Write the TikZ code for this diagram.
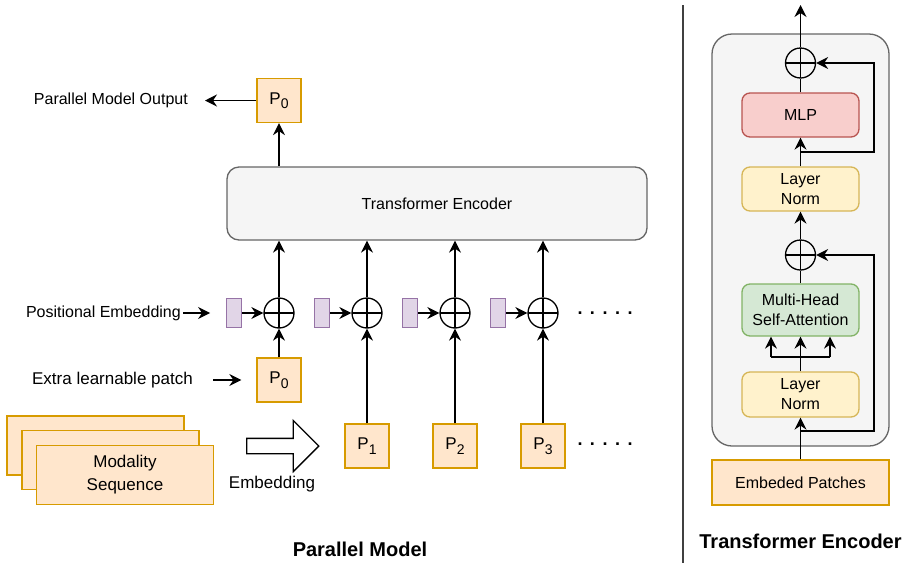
\documentclass[tikz,border=0pt]{standalone}
\usepackage{fontspec}
\setmainfont{Liberation Sans}
\usetikzlibrary{positioning,calc,arrows.meta,shapes.arrows}

\definecolor{patchfill}{HTML}{FFE6CC}
\definecolor{patchline}{HTML}{D79B00}
\definecolor{posfill}{HTML}{E1D5E7}
\definecolor{posline}{HTML}{9673A6}
\definecolor{encfill}{HTML}{F5F5F5}
\definecolor{encline}{HTML}{666666}
\definecolor{mlpfill}{HTML}{F8CECC}
\definecolor{mlpline}{HTML}{B85450}
\definecolor{lnfill}{HTML}{FFF2CC}
\definecolor{lnline}{HTML}{D6B656}
\definecolor{attfill}{HTML}{D5E8D4}
\definecolor{attline}{HTML}{82B366}

\newcommand{\moredots}{.\hspace{7.5pt}.\hspace{7.5pt}.\hspace{7.5pt}.\hspace{7.5pt}.}
\newcommand{\psub}[1]{P\raisebox{-4.5pt}{\fontsize{14}{14}\selectfont #1}}

\tikzset{
  patch/.style={draw=patchline, fill=patchfill, line width=1.3pt, minimum size=44pt, inner sep=0pt, font=\fontsize{17}{20}\selectfont},
  posemb/.style={draw=posline, fill=posfill, line width=1.3pt, minimum width=15pt, minimum height=29pt, inner sep=0pt},
  addop/.style={circle, draw, line width=1.3pt, minimum size=30pt, inner sep=0pt,
    path picture={\draw[line width=1.3pt] (path picture bounding box.north) -- (path picture bounding box.south)
      (path picture bounding box.west) -- (path picture bounding box.east);}},
  block/.style={rounded corners=8pt, line width=1.3pt, minimum width=117pt, minimum height=44pt, align=center, inner sep=0pt, font=\fontsize{16}{20}\selectfont},
  lbl/.style={inner sep=0pt, font=\fontsize{16}{19}\selectfont},
  title/.style={inner sep=0pt, font=\fontsize{20}{24}\selectfont\bfseries},
  dots/.style={inner sep=0pt, font=\fontsize{18}{20}\selectfont\bfseries},
  link/.style={-{Stealth[length=12pt,width=12pt,inset=4pt]}, line width=1.3pt},
  wire/.style={line width=1.3pt},
}

\begin{document}
\begin{tikzpicture}[x=1pt, y=-1pt]
\useasboundingbox (0,0) rectangle (914,563);

% ----------------- Parallel model: output -----------------
\node (out0) [patch] at (279,100.5) {\psub{0}};
\node (outlbl) [lbl, anchor=east, inner xsep=17pt] at (205,100.5) {Parallel Model Output};
\draw[link] (out0) -- (outlbl.east);

\node (enc) [draw=encline, fill=encfill, rounded corners=12pt, line width=1.3pt, minimum width=420pt, minimum height=73pt, lbl] at (437,203.5) {Transformer Encoder};
\draw[link] (enc.north -| out0) -- (out0);

% ----------------- Positional embedding row -----------------
\foreach \i/\x in {0/279,1/367,2/455,3/543}{
  \node (add\i) [addop] at (\x,313) {};
  \node (pos\i) [posemb, left=21pt of add\i] {};
  \draw[link] (pos\i) -- (add\i);
  \draw[link] (add\i) -- (enc.south -| add\i);
}
\node (moreadd) [dots] at (605,313) {\moredots};

\node (poslbl) [lbl, anchor=east] at (181,313) {Positional Embedding};
\draw[link, shorten <=2pt, shorten >=16pt] (poslbl.east) -- (pos0.west);

% ----------------- Patches -----------------
\node (cls) [patch] at (279,380) {\psub{0}};
\draw[link] (cls) -- (add0);
\node (clslbl) [lbl, anchor=east, font=\fontsize{17}{20}\selectfont] at (193,380) {Extra learnable patch};
\draw[link, shorten <=20pt, shorten >=15pt] (clslbl.east) -- (cls.west);

\foreach \i/\x in {1/367,2/455,3/543}{
  \node (p\i) [patch] at (\x,446) {\psub{\i}};
  \draw[link] (p\i) -- (add\i);
}
\node (morep) [dots] at (605,444) {\moredots};

% ----------------- Modality sequence -----------------
\node (seqA) [patch, minimum width=177pt, minimum height=59pt] at (95.5,445.5) {};
\node (seqB) [patch, minimum width=177pt, minimum height=59pt] at (110.5,460) {};
\node (seqC) [patch, minimum width=177pt, minimum height=59pt, align=center, font=\fontsize{17}{23}\selectfont] at (125,475) {Modality\\Sequence};

\node (embarrow) [single arrow, draw, line width=1.3pt, fill=white, inner sep=7pt, minimum height=72pt, single arrow head extend=18pt] at (279,446) {};
\node (emblbl) [lbl, font=\fontsize{17}{20}\selectfont] at (272,484) {Embedding};

\node (ptitle) [title] at (360,549) {Parallel Model};

% ----------------- Separator -----------------
\coordinate (septop) at (683,5);
\coordinate (sepbot) at (683,563);
\draw[line width=1.5pt, black!75] (septop) -- (sepbot);

% ----------------- Transformer encoder block -----------------
\node (encbox) [draw=encline, fill=encfill, rounded corners=20pt, line width=1.3pt, minimum width=177pt, minimum height=412pt] at (800.5,240) {};
\node (addtop) [addop] at (800.5,63) {};
\node (mlp) [block, draw=mlpline, fill=mlpfill] at (800.5,115) {MLP};
\node (normtop) [block, draw=lnline, fill=lnfill] at (800.5,189) {Layer\\Norm};
\node (addbot) [addop] at (800.5,255) {};
\node (mhsa) [block, draw=attline, fill=attfill, minimum height=52pt] at (800.5,310) {Multi-Head\\Self-Attention};
\node (normbot) [block, draw=lnline, fill=lnfill, minimum height=45pt] at (800.5,394.5) {Layer\\Norm};
\node (patches) [patch, font=\fontsize{16}{19}\selectfont, minimum width=177pt, minimum height=45pt] at (800.5,482.5) {Embeded Patches};

\node (ttitle) [title] at (800.5,541) {Transformer Encoder};

% attention part
\coordinate (split) at (800.5,357);
\coordinate (splitL) at (771,357);
\coordinate (splitR) at (830,357);
\coordinate (skipbot) at (800.5,431);
\coordinate (skipbotR) at (874,431);
\draw[link] (patches) -- (normbot);
\draw[wire] (normbot) -- (split);
\draw[wire] (splitL) -- (splitR);
\draw[link] (splitL) -- (splitL |- mhsa.south);
\draw[link] (split) -- (mhsa);
\draw[link] (splitR) -- (splitR |- mhsa.south);
\draw[wire] (mhsa) -- (addbot);
\draw[link] (skipbot) -- (skipbotR) |- (addbot);

% feed-forward part
\coordinate (skiptop) at (800.5,152);
\coordinate (skiptopR) at (874,152);
\coordinate (encout) at (800.5,5);
\draw[link] (addbot) -- (normtop);
\draw[link] (normtop) -- (mlp);
\draw[wire] (mlp) -- (addtop);
\draw[link] (skiptop) -- (skiptopR) |- (addtop);
\draw[link] (addtop) -- (encout);

\end{tikzpicture}
\end{document}
